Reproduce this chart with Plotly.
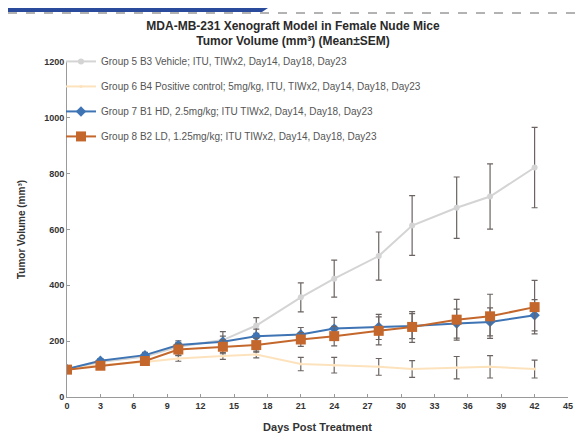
import plotly.graph_objects as go

days = [0, 3, 7, 10, 14, 17, 21, 24, 28, 31, 35, 38, 42]

vehicle = [100, 125, 145, 180, 204, 256, 357, 424, 505, 614, 678, 718, 822]
vehicle_sem = [5, 10, 10, 15, 30, 28, 52, 66, 86, 107, 110, 117, 144]

positive = [100, 115, 125, 138, 147, 152, 118, 114, 108, 100, 105, 108, 100]
positive_sem = [5, 8, 10, 10, 12, 12, 24, 28, 30, 30, 40, 40, 32]

b1_hd = [100, 130, 150, 186, 198, 218, 224, 245, 251, 254, 263, 269, 293]
b1_hd_sem = [5, 8, 10, 15, 20, 25, 25, 40, 45, 45, 52, 50, 56]

b2_ld = [98, 112, 129, 170, 180, 186, 206, 218, 237, 251, 277, 289, 322]
b2_ld_sem = [5, 8, 10, 20, 25, 25, 25, 35, 50, 55, 73, 79, 96]

names = [
    "Group 5 B3 Vehicle; ITU, TIWx2, Day14, Day18, Day23",
    "Group 6 B4 Positive control; 5mg/kg, ITU, TIWx2, Day14, Day18, Day23",
    "Group 7 B1 HD, 2.5mg/kg; ITU TIWx2, Day14, Day18, Day23",
    "Group 8 B2 LD, 1.25mg/kg; ITU TIWx2, Day14, Day18, Day23",
]

x_ticks = list(range(0, 46, 3))
y_ticks = list(range(0, 1201, 200))

series = [
    (vehicle, vehicle_sem, "#d4d4d4", "circle", 6),
    (positive, positive_sem, "#fde3bd", "circle", 3),
    (b1_hd, b1_hd_sem, "#3e74b4", "diamond", 8),
    (b2_ld, b2_ld_sem, "#c4672c", "square", 10),
]

fig = go.Figure()
for i, ((vals, sem, color, sym, size), name) in enumerate(zip(series, names)):
    fig.add_trace(go.Scatter(
        x=days, y=vals, name=name, mode="lines+markers", legendgroup=f"g{i}",
        line=dict(color=color, width=2),
        marker=dict(color=color, symbol=sym, size=size),
        error_y=dict(type="data", array=sem, visible=True, color="#6b6462", thickness=1.2, width=3),
    ))

fnt = "Liberation Sans, Arial, sans-serif"
# the page body keeps its default 8px margin, so the figure is sized to fit inside it
OFF = 8
W, H = 586 - 2 * OFF, 441 - 2 * OFF
L, R, T, B = 67 - OFF, 18 - OFF, 62 - OFF, 44 - OFF
pw, ph = W - L - R, H - T - B

def px(page_x):
    return (page_x - OFF - L) / pw

def py(page_y):
    return (H - B - (page_y - OFF)) / ph

header_shapes = [
    dict(type="path", xref="paper", yref="paper",
         path=(f"M {px(8):.4f},{py(8):.4f} L {px(268):.4f},{py(8):.4f} "
               f"L {px(262):.4f},{py(12):.4f} L {px(8):.4f},{py(12):.4f} Z"),
         fillcolor="#2a4b9b", line=dict(width=0), layer="above"),
    dict(type="line", xref="paper", yref="paper", x0=px(8), x1=px(578), y0=py(13), y1=py(13),
         line=dict(color="#666666", width=1, dash="dash"), layer="above"),
]

fig.update_layout(
    width=W, height=H,
    margin=dict(l=L, r=R, t=T, b=B, autoexpand=False),
    paper_bgcolor="white", plot_bgcolor="white",
    title=dict(
        text="<b>MDA-MB-231 Xenograft Model in Female Nude Mice<br>Tumor Volume (mm³) (Mean±SEM)</b>",
        x=0.5, xanchor="center", y=0.949, yanchor="top",
        font=dict(family=fnt, size=12, color="#2a2a2a"),
    ),
    font=dict(family=fnt, color="#333333"),
    showlegend=True,
    legend=dict(
        x=-0.012, y=1.045, xanchor="left", yanchor="top",
        bgcolor="rgba(0,0,0,0)", font=dict(family=fnt, size=10, color="#555555"),
        tracegroupgap=6, itemwidth=30,
    ),
    xaxis=dict(
        range=[0, 45], tickvals=x_ticks, ticktext=[f"<b>{t}</b>" for t in x_ticks],
        showgrid=False, zeroline=False, showline=True, linecolor="#9a9a9a", linewidth=1,
        ticks="inside", ticklen=3, tickcolor="#9a9a9a", automargin=False,
        tickfont=dict(family=fnt, size=9, color="#333333"),
        title=dict(text="<b>Days Post Treatment</b>", font=dict(family=fnt, size=11, color="#333333"), standoff=18),
    ),
    yaxis=dict(
        range=[0, 1200], tickvals=y_ticks, ticktext=[f"<b>{t}</b>" for t in y_ticks],
        showgrid=False, zeroline=False, showline=True, linecolor="#9a9a9a", linewidth=1,
        ticks="inside", ticklen=3, tickcolor="#9a9a9a", automargin=False,
        tickfont=dict(family=fnt, size=9, color="#333333"),
        title=dict(text="<b>Tumor Volume (mm³)</b>", font=dict(family=fnt, size=10, color="#333333"), standoff=16),
    ),
    shapes=header_shapes,
)

fig.write_html("out.html", config={"displayModeBar": False})
